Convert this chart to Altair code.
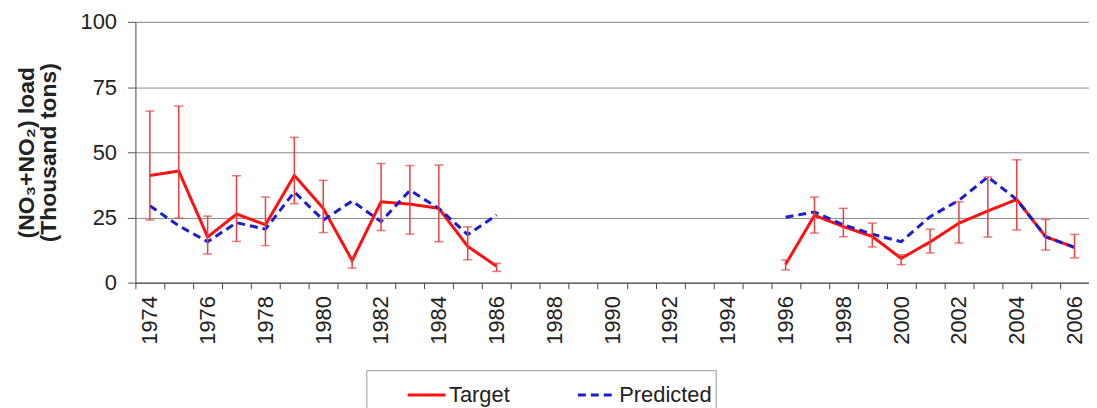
import altair as alt
import pandas as pd

all_years = [1974, 1975, 1976, 1977, 1978, 1979, 1980, 1981, 1982, 1983, 1984,
             1985, 1986, 1987, 1988, 1989, 1990, 1991, 1992, 1993, 1994, 1995,
             1996, 1997, 1998, 1999, 2000, 2001, 2002, 2003, 2004, 2005, 2006]

years = [1974, 1975, 1976, 1977, 1978, 1979, 1980, 1981, 1982, 1983, 1984, 1985, 1986,
         1996, 1997, 1998, 1999, 2000, 2001, 2002, 2003, 2004, 2005, 2006]
segment = [1, 1, 1, 1, 1, 1, 1, 1, 1, 1, 1, 1, 1,
           2, 2, 2, 2, 2, 2, 2, 2, 2, 2, 2]
target = [41.1, 42.8, 17.5, 26.3, 22.2, 41.1, 28.5, 8.5, 31.0, 30.1, 28.5, 13.9, 6.3,
          7.0, 25.8, 21.5, 17.7, 9.3, 15.6, 22.8, 27.5, 31.9, 17.6, 13.5]
predicted = [29.5, 21.8, 15.7, 23.0, 20.5, 34.8, 24.0, 31.3, 23.4, 35.4, 28.5, 18.4, 25.9,
             25.1, 27.1, 22.2, 18.6, 15.7, 25.3, 31.6, 40.5, 31.9, 17.6, 13.5]
err_low = [24.0, 24.7, 11.0, 15.8, 14.2, 30.3, 19.2, 5.6, 20.0, 18.6, 15.7, 8.8, 4.3,
           4.9, 19.0, 17.6, 13.7, 6.9, 11.4, 15.2, 17.5, 20.2, 12.5, 9.5]
err_high = [65.8, 67.7, 25.5, 41.0, 32.8, 55.7, 39.2, 10.0, 45.7, 44.9, 45.1, 21.4, 7.4,
            8.7, 32.8, 28.5, 22.8, 10.7, 20.5, 31.0, 40.5, 47.1, 24.2, 18.5]

series_names = ["Target", "Predicted"]
series_colors = ["#ff1010", "#1c1cd0"]

rows = []
for i, y in enumerate(years):
    rows.append({"year": y, "seg": segment[i], "series": "Target", "value": target[i]})
    rows.append({"year": y, "seg": segment[i], "series": "Predicted", "value": predicted[i]})
lines_df = pd.DataFrame(rows)
err_df = pd.DataFrame({"year": years, "lo": err_low, "hi": err_high})

FONT = "Liberation Sans"

x_enc = alt.X(
    "year:O",
    scale=alt.Scale(type="band", domain=all_years, paddingInner=0, paddingOuter=0),
    axis=alt.Axis(
        title=None, tickBand="extent", labelAngle=270, labelAlign="right",
        labelBaseline="middle", labelExpr="toNumber(datum.value) % 2 == 0 ? datum.label : ''",
        labelOverlap=False, labelFontSize=22, labelFont=FONT, labelColor="#222",
        tickSize=6, tickColor="#444", domainColor="#444", labelPadding=7,
        grid=False,
    ),
)

y_scale = alt.Scale(domain=[0, 100], nice=False)
y_axis = alt.Axis(
    values=[0, 25, 50, 75, 100],
    title=["(NO\u2083+NO\u2082) load", "(Thousand  tons)"],
    titleFont=FONT, titleFontSize=23, titleFontWeight="bold", titleColor="#222",
    titlePadding=20, titleLineHeight=22,
    labelFont=FONT, labelFontSize=22, labelColor="#222", labelPadding=11,
    tickSize=8, tickColor="#555", domainColor="#555",
    grid=True, gridColor="#8a8a8a", gridWidth=1,
)

color_scale = alt.Scale(domain=series_names, range=series_colors)
dash_scale = alt.Scale(domain=series_names, range=[[1, 0], [8, 5]])

legend = alt.Legend(
    title=None, orient="none", legendX=232, legendY=350, direction="horizontal",
    strokeColor="#999", padding=4, symbolType="stroke", symbolSize=1444,
    symbolStrokeWidth=3, symbolOffset=36, labelFont=FONT, labelFontSize=22,
    labelColor="#222", columnPadding=30, labelOffset=2, fillColor="white",
)

base = alt.Chart(lines_df)

target_line = base.transform_filter(alt.datum.series == "Target").mark_line(strokeWidth=3).encode(
    x=x_enc,
    y=alt.Y("value:Q", scale=y_scale, axis=y_axis),
    color=alt.Color("series:N", scale=color_scale, legend=legend),
    strokeDash=alt.StrokeDash("series:N", scale=dash_scale, legend=legend),
    detail="seg:N",
)
pred_line = base.transform_filter(alt.datum.series == "Predicted").mark_line(strokeWidth=3).encode(
    x=x_enc,
    y=alt.Y("value:Q", scale=y_scale, axis=y_axis),
    color=alt.Color("series:N", scale=color_scale, legend=legend),
    strokeDash=alt.StrokeDash("series:N", scale=dash_scale, legend=legend),
    detail="seg:N",
)

err_base = alt.Chart(err_df)
err_rule = err_base.mark_rule(color="#e8403f", strokeWidth=1.5).encode(
    x=x_enc, y=alt.Y("lo:Q", scale=y_scale), y2="hi:Q"
)
cap_lo = err_base.mark_tick(color="#e8403f", thickness=1.5, size=9).encode(
    x=x_enc, y=alt.Y("lo:Q", scale=y_scale)
)
cap_hi = err_base.mark_tick(color="#e8403f", thickness=1.5, size=9).encode(
    x=x_enc, y=alt.Y("hi:Q", scale=y_scale)
)

chart = alt.layer(target_line, pred_line, err_rule, cap_lo, cap_hi).properties(
    width=958, height=262,
    autosize=alt.AutoSizeParams(type="none"),
    padding={"left": 128, "top": 13, "right": 0, "bottom": 125},
).configure_view(stroke=None).configure(background="white")

chart.save("out.html", embed_options={"renderer": "svg", "actions": False})
